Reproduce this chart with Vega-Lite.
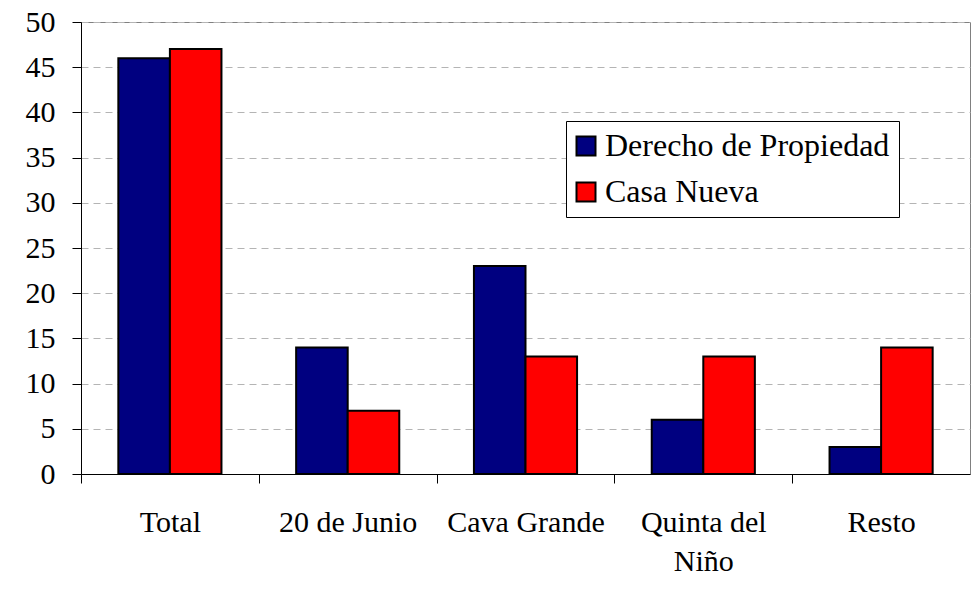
{
  "$schema": "https://vega.github.io/schema/vega-lite/v6.json",
  "width": 889,
  "height": 452,
  "autosize": {"type": "none"},
  "padding": {"left": 81, "top": 22, "right": 1, "bottom": 130},
  "background": "white",
  "data": {
    "values": [
      {"zona": "Total", "serie": "Derecho de Propiedad", "valor": 46},
      {"zona": "Total", "serie": "Casa Nueva", "valor": 47},
      {"zona": "20 de Junio", "serie": "Derecho de Propiedad", "valor": 14},
      {"zona": "20 de Junio", "serie": "Casa Nueva", "valor": 7},
      {"zona": "Cava Grande", "serie": "Derecho de Propiedad", "valor": 23},
      {"zona": "Cava Grande", "serie": "Casa Nueva", "valor": 13},
      {"zona": "Quinta del Niño", "serie": "Derecho de Propiedad", "valor": 6},
      {"zona": "Quinta del Niño", "serie": "Casa Nueva", "valor": 13},
      {"zona": "Resto", "serie": "Derecho de Propiedad", "valor": 3},
      {"zona": "Resto", "serie": "Casa Nueva", "valor": 14}
    ]
  },
  "mark": {"type": "bar", "stroke": "black", "strokeWidth": 2},
  "encoding": {
    "x": {
      "field": "zona",
      "type": "nominal",
      "sort": ["Total", "20 de Junio", "Cava Grande", "Quinta del Niño", "Resto"],
      "scale": {"paddingInner": 0.42, "paddingOuter": 0.21},
      "axis": {
        "title": null,
        "bandPosition": 0,
        "tickOffset": -37.3,
        "labelOffset": 37.3,
        "labelAngle": 0,
        "labelAlign": "center",
        "labelFont": "Liberation Serif",
        "labelFontSize": 30,
        "labelColor": "black",
        "labelLineHeight": 39,
        "labelPadding": 24,
        "labelBound": false,
        "labelOverlap": false,
        "labelExpr": "datum.value == 'Quinta del Niño' ? ['Quinta del', 'Niño'] : datum.value",
        "tickSize": 9,
        "tickColor": "black",
        "domainColor": "black",
        "grid": false
      }
    },
    "xOffset": {
      "field": "serie",
      "sort": ["Derecho de Propiedad", "Casa Nueva"],
      "scale": {"paddingInner": 0, "paddingOuter": 0}
    },
    "y": {
      "field": "valor",
      "type": "quantitative",
      "scale": {"domain": [0, 50], "nice": false},
      "axis": {
        "title": null,
        "values": [0, 5, 10, 15, 20, 25, 30, 35, 40, 45, 50],
        "labelFont": "Liberation Serif",
        "labelFontSize": 30,
        "labelColor": "black",
        "labelPadding": 17,
        "tickSize": 9,
        "tickColor": "black",
        "domainColor": "black",
        "grid": true,
        "gridColor": "#b4b4b4",
        "gridDash": [7, 5]
      }
    },
    "color": {
      "field": "serie",
      "type": "nominal",
      "scale": {"domain": ["Derecho de Propiedad", "Casa Nueva"], "range": ["#000080", "#FF0000"]},
      "legend": {
        "title": null,
        "orient": "none",
        "legendX": 485,
        "legendY": 99,
        "padding": 9,
        "strokeColor": "black",
        "fillColor": "white",
        "cornerRadius": 0,
        "symbolType": "square",
        "symbolSize": 361,
        "symbolOffset": -5,
        "symbolStrokeColor": "black",
        "symbolStrokeWidth": 2,
        "symbolOpacity": 1,
        "labelFont": "Liberation Serif",
        "labelFontSize": 32,
        "labelColor": "black",
        "labelOffset": 3,
        "rowPadding": 14,
        "labelLimit": 500
      }
    }
  },
  "config": {"view": {"stroke": "#808080", "strokeWidth": 1}}
}
